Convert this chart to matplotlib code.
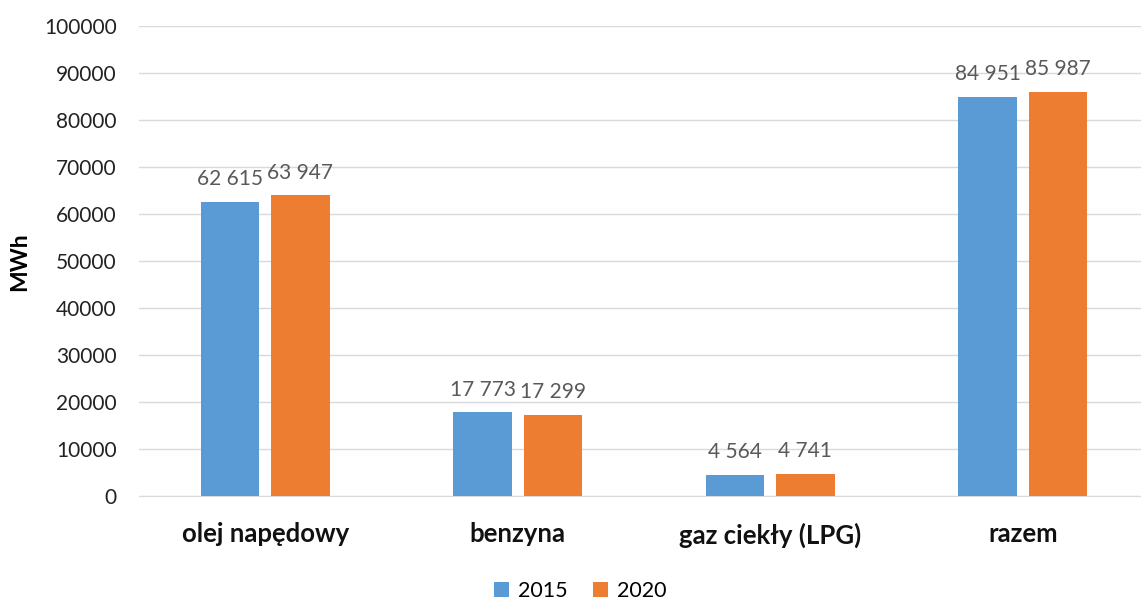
import matplotlib
matplotlib.use("Agg")
import matplotlib.pyplot as plt
import numpy as np

categories = ["olej napędowy", "benzyna", "gaz ciekły (LPG)", "razem"]
series_names = ["2015", "2020"]
values_2015 = [62615, 17773, 4564, 84951]
values_2020 = [63947, 17299, 4741, 85987]
labels_2015 = ["62 615", "17 773", "4 564", "84 951"]
labels_2020 = ["63 947", "17 299", "4 741", "85 987"]
yticks = [0, 10000, 20000, 30000, 40000, 50000, 60000, 70000, 80000, 90000, 100000]

plt.rcParams['font.family'] = ['Lato', 'DejaVu Sans']

fig = plt.figure(figsize=(11.41, 6.02), dpi=100)
ax = fig.add_axes([139/1141, 1 - 496/602, 1010/1141, (496 - 26)/602])

x = np.arange(len(categories))
w = 0.232
off = 0.139
c1, c2 = "#5B9BD5", "#ED7D31"
b1 = ax.bar(x - off, values_2015, w, color=c1, label=series_names[0], zorder=3)
b2 = ax.bar(x + off, values_2020, w, color=c2, label=series_names[1], zorder=3)

for rect, lab in zip(b1, labels_2015):
    ax.annotate(lab, (rect.get_x() + rect.get_width() / 2, rect.get_height()),
                xytext=(0, 9), textcoords="offset points", ha="center", va="bottom",
                fontsize=15, color="#595959")
for rect, lab in zip(b2, labels_2020):
    ax.annotate(lab, (rect.get_x() + rect.get_width() / 2, rect.get_height()),
                xytext=(0, 9), textcoords="offset points", ha="center", va="bottom",
                fontsize=15, color="#595959")

ax.set_xlim(-0.5, len(categories) - 0.5)
ax.set_ylim(0, 100000)
ax.set_yticks(yticks)
ax.set_yticklabels([str(t) for t in yticks], fontsize=15, color="#222222")
ax.set_xticks(x)
ax.set_xticklabels(categories, fontsize=18.5, fontweight="bold", color="#111111")
ax.tick_params(axis="both", length=0)
ax.tick_params(axis="x", pad=19)
ax.tick_params(axis="y", pad=16)
ax.grid(axis="y", color="#D9D9D9", linewidth=1, zorder=0)
for s in ["left", "right", "top"]:
    ax.spines[s].set_visible(False)
ax.spines["bottom"].set_color("#D9D9D9")

fig.text(20/1141, 1 - 262/602, "MWh", rotation=90, ha="center", va="center",
         fontsize=16.5, fontweight="bold")

fig.legend(loc="center", bbox_to_anchor=(580/1141, 1 - 591/602), ncol=2, frameon=False,
           fontsize=15.5, handlelength=0.7, handleheight=0.7, columnspacing=1.2,
           handletextpad=0.4)

fig.savefig("out.png", dpi=100)
